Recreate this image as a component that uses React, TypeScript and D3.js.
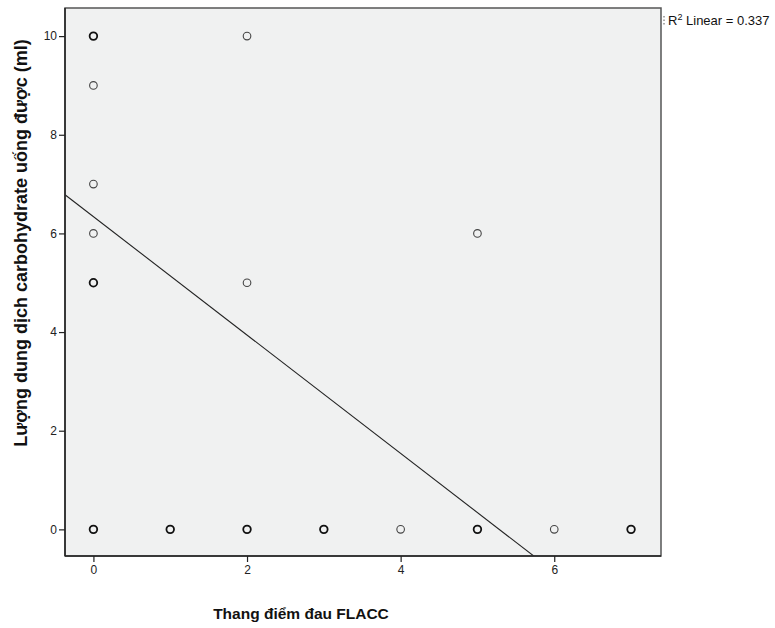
import { useEffect, useRef } from "react";
import * as d3 from "d3";

// observed points (x = FLACC score, y = ml), n = overlapping cases drawn at same spot
const xVals = [0, 0, 0, 0, 0, 0, 1, 2, 2, 2, 3, 4, 5, 5, 6, 7];
const yVals = [10, 9, 7, 6, 5, 0, 0, 10, 5, 0, 0, 0, 6, 0, 0, 0];
const counts = [3, 1, 1, 1, 2, 3, 3, 1, 1, 3, 3, 1, 1, 3, 1, 3];

// fitted line
const fitIntercept = 6.34;
const fitSlope = -1.2;
const r2Label = "0.337";

const xTicks = [0, 2, 4, 6];
const yTicks = [0, 2, 4, 6, 8, 10];

const App = () => {
  const svgRef = useRef<SVGSVGElement>(null);

  useEffect(() => {
    const W = 775;
    const H = 628;
    const margin = { top: 8, right: 114, bottom: 72, left: 65 };
    const width = W - margin.left - margin.right;
    const height = H - margin.top - margin.bottom;

    const svg = d3.select(svgRef.current);
    svg.selectAll("*").remove();
    svg.attr("width", W).attr("height", H);

    const g = svg
      .append("g")
      .attr("transform", `translate(${margin.left}, ${margin.top})`);

    const x = d3.scaleLinear().domain([-0.37, 7.39]).range([0, width]);
    const y = d3.scaleLinear().domain([-0.54, 10.57]).range([height, 0]);

    g.append("rect")
      .attr("width", width)
      .attr("height", height)
      .attr("fill", "#f0f1f1");

    // clip for the fit line
    svg
      .append("defs")
      .append("clipPath")
      .attr("id", "plotclip")
      .append("rect")
      .attr("width", width)
      .attr("height", height);

    const fitX = x.domain();
    g.append("path")
      .attr("clip-path", "url(#plotclip)")
      .attr(
        "d",
        d3
          .line<number>()
          .x((v) => x(v))
          .y((v) => y(fitIntercept + fitSlope * v))(fitX)
      )
      .attr("fill", "none")
      .attr("stroke", "#222")
      .attr("stroke-width", 1.1);

    const pts = xVals.map((v, i) => ({ x: v, y: yVals[i], n: counts[i] }));
    g.append("g")
      .selectAll("circle")
      .data(pts)
      .join("circle")
      .attr("cx", (d) => x(d.x))
      .attr("cy", (d) => y(d.y))
      .attr("r", 3.8)
      .attr("fill", "none")
      .attr("stroke", (d) => (d.n > 1 ? "#111" : "#444"))
      .attr("stroke-width", (d) => (d.n > 1 ? 1.8 : 1.1));

    // frame
    g.append("rect")
      .attr("width", width)
      .attr("height", height)
      .attr("fill", "none")
      .attr("stroke", "#555")
      .attr("stroke-width", 1.5);
    g.append("line")
      .attr("x1", 0)
      .attr("x2", 0)
      .attr("y1", 0)
      .attr("y2", height)
      .attr("stroke", "#222")
      .attr("stroke-width", 1.5);
    g.append("line")
      .attr("x1", 0)
      .attr("x2", width)
      .attr("y1", height)
      .attr("y2", height)
      .attr("stroke", "#222")
      .attr("stroke-width", 1.5);

    const font = "Liberation Sans, Arial, sans-serif";

    const xAxis = g
      .append("g")
      .attr("transform", `translate(0, ${height})`)
      .call(d3.axisBottom(x).tickValues(xTicks).tickSize(6).tickPadding(3).tickFormat(d3.format("d")));
    const yAxis = g
      .append("g")
      .call(d3.axisLeft(y).tickValues(yTicks).tickSize(6).tickPadding(2).tickFormat(d3.format("d")));

    [xAxis, yAxis].forEach((a) => {
      a.select(".domain").remove();
      a.selectAll("line").attr("stroke", "#222").attr("stroke-width", 1.2);
      a.selectAll("text")
        .attr("font-family", font)
        .attr("font-size", 12)
        .attr("fill", "#222");
    });

    svg
      .append("text")
      .attr("x", 301)
      .attr("y", 619)
      .attr("text-anchor", "middle")
      .attr("font-family", font)
      .attr("font-weight", "bold")
      .attr("font-size", 15.5)
      .attr("fill", "#111")
      .text("Thang điểm đau FLACC");

    svg
      .append("text")
      .attr("transform", "translate(27, 243) rotate(-90)")
      .attr("text-anchor", "middle")
      .attr("font-family", font)
      .attr("font-weight", "bold")
      .attr("font-size", 18)
      .attr("fill", "#111")
      .text("Lượng dung dịch carbohydrate uống được (ml)");

    // legend
    const lg = svg.append("text")
      .attr("x", 668)
      .attr("y", 25)
      .attr("font-family", font)
      .attr("font-size", 13)
      .attr("fill", "#111");
    lg.append("tspan").text("R");
    lg.append("tspan").attr("dy", -5).attr("font-size", 9).text("2");
    lg.append("tspan").attr("dy", 5).text(` Linear = ${r2Label}`);
    svg
      .append("line")
      .attr("x1", 664)
      .attr("x2", 664)
      .attr("y1", 16)
      .attr("y2", 25)
      .attr("stroke", "#555")
      .attr("stroke-dasharray", "1.5,2");
  }, []);

  return <svg ref={svgRef} style={{ position: "absolute", left: 0, top: 0 }}></svg>;
};

export default App;
